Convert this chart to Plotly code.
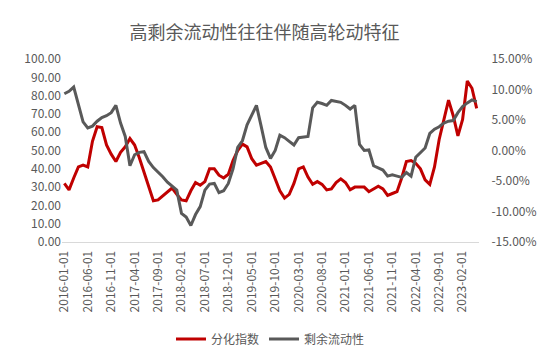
import pandas as pd
import plotly.graph_objects as go

dates = pd.date_range("2016-01-01", "2023-05-01", freq="MS").strftime("%Y-%m-%d").tolist()

divergence_index = [
    32, 28.5, 35, 41, 42, 41, 55, 63, 62.5, 53,
    48, 44, 49, 52, 56.5, 53, 46, 38, 30, 22.5,
    23, 25, 27.5, 29.5, 26, 23, 22.5, 28, 32.5, 31,
    33, 40, 40, 36.5, 35, 37, 44.5, 50, 53.5, 52,
    45.5, 42, 43, 44, 41, 35, 28, 24, 26, 32,
    40, 41, 35.5, 31.5, 33, 31.5, 28.5, 29, 32.5, 34.5,
    32.5, 28.5, 30, 30, 30, 27.5, 29, 30.5, 29, 25.5,
    26.5, 27.5, 35, 44, 44.5, 43, 40, 34, 31.5, 41,
    56, 67, 77.5, 69, 58, 67, 88, 84, 73,
]

excess_liquidity = [
    9.3, 9.7, 10.4, 7.5, 4.7, 3.7, 4.0, 4.8, 5.4, 5.7,
    6.2, 7.4, 4.5, 2.3, -2.5, -0.7, -0.3, -0.2, -1.8, -2.8,
    -3.5, -4.3, -5.2, -5.9, -6.5, -10.3, -10.9, -12.3, -10.5, -9.2,
    -6.5, -5.5, -5.4, -6.9, -6.6, -5.4, -3.0, 0.5, 1.6, 4.2,
    5.8, 7.4, 4.0, 0.5, -1.3, 0.0, 2.5, 2.1, 1.5, 0.9,
    2.1, 2.2, 2.3, 7.0, 7.9, 7.7, 7.4, 8.2, 8.0, 7.9,
    7.4, 6.8, 7.4, 1.0, 0.0, 0.1, -2.5, -2.8, -3.2, -4.2,
    -4.0, -4.2, -4.4, -3.6, -4.2, -1.1, -0.3, 0.4, 2.8, 3.5,
    3.9, 4.5, 4.8, 4.9, 6.2, 7.2, 7.8, 8.3, 8.0,
]

left_ticks = [0, 10, 20, 30, 40, 50, 60, 70, 80, 90, 100]
left_labels = [f"{v:.2f}" for v in left_ticks]
right_ticks = [-15, -10, -5, 0, 5, 10, 15]
right_labels = [f"{v:.2f}%" for v in right_ticks]
x_ticks = dates[::5]

font_family = "Noto Sans CJK SC, Noto Sans, sans-serif"
text_color = "#595959"

FIG_W, FIG_H = 530, 343

fig = go.Figure()
fig.add_trace(go.Scatter(
    x=dates, y=divergence_index, name="分化指数", mode="lines",
    line=dict(color="#C00000", width=3), yaxis="y",
))
fig.add_trace(go.Scatter(
    x=dates, y=excess_liquidity, name="剩余流动性", mode="lines",
    line=dict(color="#595959", width=3), yaxis="y2",
))

fig.update_layout(
    width=FIG_W, height=FIG_H,
    margin=dict(l=54, r=59, t=50.5, b=108.5, autoexpand=False),
    paper_bgcolor="white", plot_bgcolor="white",
    font=dict(family=font_family, color=text_color, size=12),
    title=dict(text="高剩余流动性往往伴随高轮动特征", x=256.5 / FIG_W, xanchor="center",
               y=1 - 25 / FIG_H, yanchor="middle",
               font=dict(size=18, color=text_color, family=font_family)),
    showlegend=True,
    legend=dict(orientation="h", x=0.5, xanchor="center", y=-0.53, yanchor="middle",
                font=dict(size=12, color=text_color)),
    xaxis=dict(
        type="category", range=[-0.5, len(dates) - 0.5], automargin=False,
        tickmode="array", tickvals=x_ticks, ticktext=x_ticks,
        tickangle=-90, showgrid=False, showline=True, linecolor="#D9D9D9",
        linewidth=1, ticks="outside", ticklen=3, tickcolor="rgba(0,0,0,0)",
        tickfont=dict(size=12, color=text_color), zeroline=False,
    ),
    yaxis=dict(
        range=[0, 100], tickmode="array", tickvals=left_ticks, ticktext=left_labels,
        showgrid=False, zeroline=False, showline=False, automargin=False,
        ticks="", tickfont=dict(size=12, color=text_color),
    ),
    yaxis2=dict(
        range=[-15, 15], tickmode="array", tickvals=right_ticks, ticktext=right_labels,
        overlaying="y", side="right", automargin=False,
        showgrid=False, zeroline=False, showline=False,
        ticks="outside", ticklen=9, tickcolor="rgba(0,0,0,0)",
        tickfont=dict(size=12, color=text_color),
    ),
)

fig.write_html("out.html")
